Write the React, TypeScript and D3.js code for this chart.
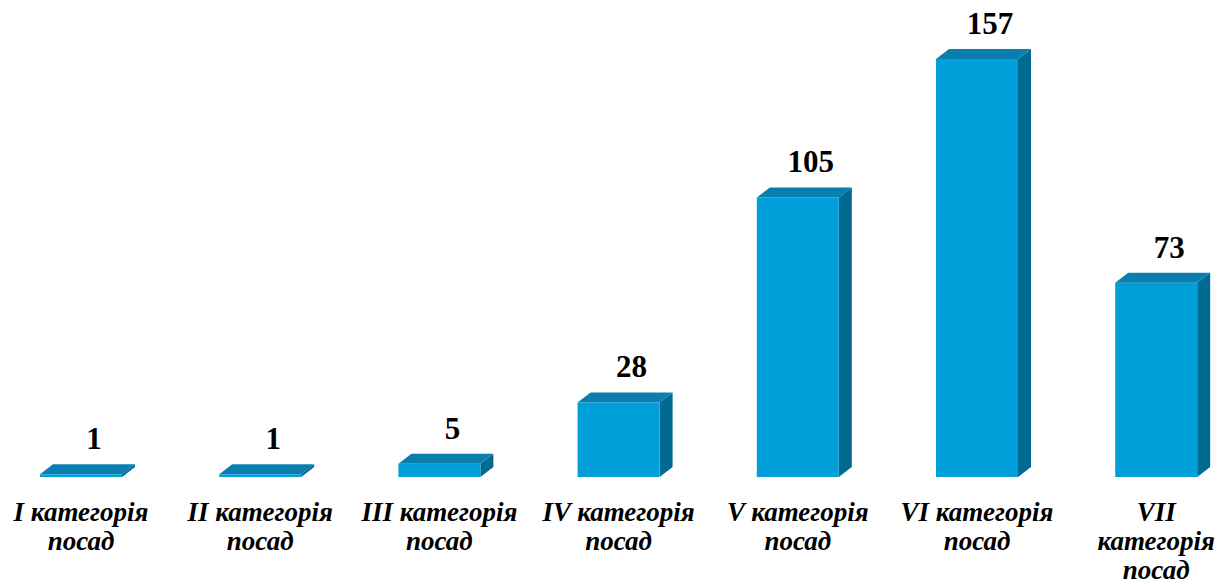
import React, { useRef, useEffect } from "react";
import * as d3 from "d3";

// категорії та значення
const categories = ["I", "II", "III", "IV", "V", "VI", "VII"];
const values = [1, 1, 5, 28, 105, 157, 73];
const labelLines = [
  ["I категорія", "посад"],
  ["II категорія", "посад"],
  ["III категорія", "посад"],
  ["IV категорія", "посад"],
  ["V категорія", "посад"],
  ["VI категорія", "посад"],
  ["VII", "категорія", "посад"],
];

const W = 1232, H = 584;
const FRONT = "#009fda";
const TOP = "#0a7eae";
const SIDE = "#006a92";

export default function App() {
  const ref = useRef<SVGSVGElement>(null);

  useEffect(() => {
    const svg = d3.select(ref.current);
    svg.selectAll("*").remove();

    const baseY = 477;
    const dx = 13, dy = 10;

    const x = d3.scaleBand<string>()
      .domain(categories)
      .range([2.6, 1234.6])
      .paddingInner(0.5424)
      .paddingOuter(0.2087);
    const y = d3.scaleLinear().domain([0, 157]).range([baseY, 59]);
    const bw = x.bandwidth();

    const g = svg.append("g");
    categories.forEach((c, i) => {
      const x0 = x(c)!;
      const x1 = x0 + bw;
      const yt = y(values[i]);
      // боковина
      g.append("path")
        .attr("d", `M${x1},${yt} L${x1 + dx},${yt - dy} L${x1 + dx},${baseY - dy} L${x1},${baseY} Z`)
        .attr("fill", SIDE);
      // верх
      g.append("path")
        .attr("d", `M${x0},${yt} L${x0 + dx},${yt - dy} L${x1 + dx},${yt - dy} L${x1},${yt} Z`)
        .attr("fill", TOP);
      // фронт
      g.append("rect")
        .attr("x", x0)
        .attr("y", yt)
        .attr("width", bw)
        .attr("height", Math.max(0, baseY - yt))
        .attr("fill", FRONT);
      // значення
      g.append("text")
        .attr("x", x0 + bw / 2 + dx)
        .attr("y", yt - dy - 15)
        .attr("text-anchor", "middle")
        .attr("font-family", "'Liberation Serif', 'Times New Roman', serif")
        .attr("font-weight", "bold")
        .attr("font-size", 31)
        .attr("fill", "#000")
        .text(values[i]);
      // підписи категорій
      const t = g.append("text")
        .attr("text-anchor", "middle")
        .attr("font-family", "'Liberation Serif', 'Times New Roman', serif")
        .attr("font-weight", "bold")
        .attr("font-style", "italic")
        .attr("font-size", 27)
        .attr("fill", "#000");
      labelLines[i].forEach((line, j) => {
        t.append("tspan")
          .attr("x", x0 + bw / 2)
          .attr("y", 521 + j * 29)
          .text(line);
      });
    });
  }, []);

  return (
    <svg
      ref={ref}
      width={W}
      height={H}
      style={{ position: "absolute", left: 0, top: 0, background: "#fff" }}
    />
  );
}
